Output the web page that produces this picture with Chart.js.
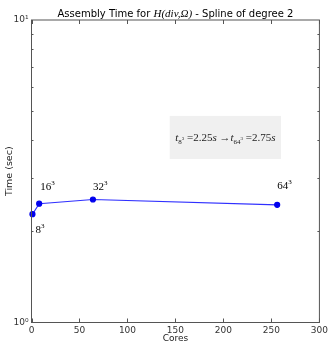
<!DOCTYPE html>
<html>
<head>
<meta charset="utf-8">
<script src="https://cdn.jsdelivr.net/npm/chart.js@4.4.0/dist/chart.umd.min.js"></script>
<style>
  html, body { margin: 0; padding: 0; background: #fff; }
  #wrap { width: 331px; height: 344px; }
</style>
</head>
<body>
<div id="wrap"><canvas id="chart"></canvas></div>
<script>
// data
const cores = [1, 8, 64, 256];
const times = [2.28, 2.47, 2.55, 2.45];
const meshSizes = ['8', '16', '32', '64'];
const xTicks = [0, 50, 100, 150, 200, 250, 300];

// label placement (pixels from each point)
const labelOffsets = [[3, 19], [1, -14], [0, -10], [0, -16]];

const axisColor = '#555';
const font = 'DejaVu Sans';
const serif = 'Liberation Serif';

// draws text pieces: [text, style, shiftY, size, family]
function drawRich(ctx, parts, x, y, align) {
    let total = 0;
    parts.forEach(p => {
        ctx.font = (p[1] || '') + ' ' + p[3] + 'px ' + (p[4] || serif);
        p.w = ctx.measureText(p[0]).width;
        total += p.w;
    });
    let cx = align === 'center' ? x - total / 2 : x;
    ctx.textAlign = 'left';
    ctx.textBaseline = 'alphabetic';
    parts.forEach(p => {
        ctx.font = (p[1] || '') + ' ' + p[3] + 'px ' + (p[4] || serif);
        ctx.fillText(p[0], cx, y + (p[2] || 0));
        cx += p.w;
    });
}

const decor = {
    id: 'decor',
    afterDraw(chart) {
        const ctx = chart.ctx;
        const a = chart.chartArea;
        const xs = chart.scales.x;
        const ys = chart.scales.y;
        ctx.save();

        // frame
        ctx.strokeStyle = axisColor;
        ctx.lineWidth = 1;
        ctx.strokeRect(a.left, a.top, a.right - a.left, a.bottom - a.top);

        // inward ticks
        ctx.beginPath();
        xTicks.forEach(v => {
            const px = Math.round(xs.getPixelForValue(v)) + 0.5;
            ctx.moveTo(px, a.bottom); ctx.lineTo(px, a.bottom - 4);
            ctx.moveTo(px, a.top); ctx.lineTo(px, a.top + 4);
        });
        for (let v = 2; v < 10; v++) {
            const py = Math.round(ys.getPixelForValue(v)) + 0.5;
            ctx.moveTo(a.left, py); ctx.lineTo(a.left + 2, py);
            ctx.moveTo(a.right, py); ctx.lineTo(a.right - 2, py);
        }
        ctx.stroke();

        // title
        ctx.fillStyle = '#000';
        drawRich(ctx, [
            ['Assembly Time for ', '', 0, 10, font],
            ['H(div,Ω)', 'italic', 0, 11, serif],
            [' - Spline of degree 2', '', 0, 10, font]
        ], (a.left + a.right) / 2, 17, 'center');

        // point labels
        const meta = chart.getDatasetMeta(0);
        meta.data.forEach((pt, i) => {
            const o = labelOffsets[i];
            drawRich(ctx, [
                [meshSizes[i], '', 0, 11, serif],
                ['3', '', -5, 7, serif]
            ], pt.x + o[0], pt.y + o[1], 'left');
        });

        // info box
        const bx1 = xs.getPixelForValue(144), bx2 = xs.getPixelForValue(260);
        const by1 = ys.getPixelForValue(4.82), by2 = ys.getPixelForValue(3.47);
        ctx.fillStyle = '#f0f0f0';
        ctx.fillRect(bx1, by1, bx2 - bx1, by2 - by1);
        ctx.fillStyle = '#222';
        drawRich(ctx, [
            ['t', 'italic', 0, 11],
            ['8', '', 3, 7],
            ['3', '', -1, 5],
            [' =2.25', '', 0, 11],
            ['s', 'italic', 0, 11],
            [' →', '', 0, 11],
            ['t', 'italic', 0, 11],
            ['64', '', 3, 7],
            ['3', '', -1, 5],
            [' =2.75', '', 0, 11],
            ['s', 'italic', 0, 11]
        ], (bx1 + bx2) / 2, (by1 + by2) / 2 + 4, 'center');

        ctx.restore();
    }
};

new Chart(document.getElementById('chart'), {
    type: 'scatter',
    data: {
        datasets: [{
            data: cores.map((c, i) => ({ x: c, y: times[i] })),
            showLine: true,
            borderColor: '#3030ff',
            borderWidth: 1.2,
            backgroundColor: '#0000ee',
            pointBackgroundColor: '#0000ee',
            pointBorderColor: '#0000ee',
            pointRadius: 2.5,
            clip: false
        }]
    },
    options: {
        responsive: true,
        maintainAspectRatio: false,
        animation: false,
        layout: { padding: { top: 20, right: 7, left: 0, bottom: 0 } },
        plugins: { legend: { display: false }, tooltip: { enabled: false } },
        scales: {
            x: {
                type: 'linear',
                min: 0, max: 300,
                grid: { display: false, drawTicks: false },
                border: { display: false },
                afterBuildTicks: s => { s.ticks = xTicks.map(v => ({ value: v })); },
                afterFit: s => { s.height = 21.5; },
                ticks: { color: '#333', font: { family: font, size: 9 }, padding: 3, maxRotation: 0 },
                title: { display: true, text: 'Cores', color: '#222', font: { family: font, size: 9 }, padding: 0 }
            },
            y: {
                type: 'logarithmic',
                min: 1, max: 10,
                grid: { display: false, drawTicks: false },
                border: { display: false },
                afterFit: s => { s.width = 31.5; },
                ticks: {
                    color: '#333', font: { family: font, size: 9 }, padding: 3,
                    autoSkip: false,
                    callback: v => v === 1 ? '10⁰' : (v === 10 ? '10¹' : '')
                },
                title: { display: true, text: 'Time (sec)', color: '#222', font: { family: font, size: 9.5 }, padding: { top: 4, bottom: 0 } }
            }
        }
    },
    plugins: [decor]
});
</script>
</body>
</html>
